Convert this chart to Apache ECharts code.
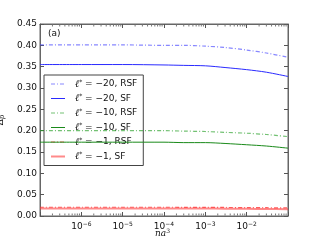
<!DOCTYPE html>
<html><head><meta charset="utf-8">
<script src="https://cdn.jsdelivr.net/npm/echarts@6/dist/echarts.min.js"></script>
<style>html,body{margin:0;padding:0;background:#fff}#c{width:320px;height:240px}</style>
</head><body><div id="c"></div>
<script>
const xs = [1e-7, 1e-6, 1e-5, 1e-4, 3e-4, 1e-3, 3e-3, 1e-2, 3e-2, 1e-1];
const l20RSF = [0.401, 0.401, 0.401, 0.400, 0.400, 0.398, 0.395, 0.389, 0.382, 0.372];
const l20SF  = [0.355, 0.355, 0.355, 0.354, 0.353, 0.352, 0.348, 0.343, 0.337, 0.327];
const l10RSF = [0.200, 0.200, 0.200, 0.200, 0.199, 0.198, 0.196, 0.194, 0.191, 0.186];
const l10SF  = [0.173, 0.173, 0.173, 0.173, 0.172, 0.172, 0.170, 0.167, 0.164, 0.159];
const l1RSF  = [0.0205, 0.0205, 0.0205, 0.0205, 0.0204, 0.0203, 0.0200, 0.0197, 0.0194, 0.019];
const l1SF   = [0.0178, 0.0178, 0.0178, 0.0177, 0.0176, 0.0175, 0.0172, 0.0168, 0.0164, 0.016];
const seriesNames = ['ℓ* = −20, RSF', 'ℓ* = −20, SF', 'ℓ* = −10, RSF', 'ℓ* = −10, SF', 'ℓ* = −1, RSF', 'ℓ* = −1, SF'];
const yTickLabels = ['0.00', '0.05', '0.10', '0.15', '0.20', '0.25', '0.30', '0.35', '0.40', '0.45'];
const decades = [-7, -6, -5, -4, -3, -2, -1];
const xLabelDecades = [-6, -5, -4, -3, -2];

const minorX = [];
decades.slice(0, -1).forEach(d => { for (let m = 2; m <= 9; m++) minorX.push(m * Math.pow(10, d)); });

const chart = echarts.init(document.getElementById('c'), null, {renderer: 'canvas'});
const pair = a => xs.map((x, i) => [x, a[i]]);
const DD = [4, 2, 1, 2];
const styles = [
  {color: 'rgba(70,70,255,0.65)', width: 1.2, type: DD},
  {color: '#2a2aff', width: 1, type: 'solid'},
  {color: 'rgba(40,160,40,0.65)', width: 1.2, type: DD},
  {color: '#1a8a1a', width: 1, type: 'solid'},
  {color: 'rgba(255,40,40,0.75)', width: 1.2, type: DD},
  {color: 'rgba(255,60,60,0.6)', width: 2, type: 'solid'}
];
const arrays = [l20RSF, l20SF, l10RSF, l10SF, l1RSF, l1SF];
const series = arrays.map((a, i) => ({
  name: seriesNames[i], type: 'line', data: pair(a), showSymbol: false, symbol: 'none',
  smooth: 0.3, lineStyle: styles[i], itemStyle: {color: styles[i].color}, z: 3 + i
}));
series.push({
  type: 'custom', name: 'minor', silent: true, xAxisIndex: 0, yAxisIndex: 0, clip: false,
  data: minorX.map(v => [v, 0]),
  renderItem: (params, api) => {
    const p = api.coord([api.value(0), 0]);
    const cs = params.coordSys;
    return {type: 'group', children: [
      {type: 'line', shape: {x1: p[0], y1: cs.y + cs.height - 0.5, x2: p[0], y2: cs.y + cs.height - 2.5}, style: {stroke: '#777', lineWidth: 1}},
      {type: 'line', shape: {x1: p[0], y1: cs.y + 0.5, x2: p[0], y2: cs.y + 2.5}, style: {stroke: '#777', lineWidth: 1}}
    ]};
  }, z: 10
});
const xLabel = v => {
  const n = Math.round(Math.log10(Number(v)));
  if (xLabelDecades.indexOf(n) < 0) return '';
  return '10{s|' + (n < 0 ? '\u2212' + (-n) : n) + '}';
};
const yLabel = v => yTickLabels[Math.round(Number(v) / 0.05)];
const axisCommon = {
  axisLine: {show: true, onZero: false, lineStyle: {color: '#666', width: 1}},
  axisTick: {show: true, inside: true, length: 4, lineStyle: {color: '#555'}},
  splitLine: {show: false}
};
chart.setOption({
  animation: false,
  backgroundColor: '#fff',
  grid: {left: 40, top: 24, right: 32, bottom: 24, containLabel: false, outerBoundsMode: 'none',
    show: true, borderColor: '#666', borderWidth: 1, backgroundColor: 'transparent'},
  xAxis: [
    Object.assign({type: 'log', logBase: 10, min: 1e-7, max: 1e-1, interval: 1, position: 'bottom',
      axisLabel: {formatter: xLabel, color: '#111', fontFamily: 'DejaVu Sans', fontSize: 9, margin: 5,
        rich: {s: {fontSize: 6, fontFamily: 'DejaVu Sans', color: '#111', padding: [0, 0, 6, 0]}}}}, axisCommon),
    Object.assign({type: 'log', logBase: 10, min: 1e-7, max: 1e-1, interval: 1, position: 'top',
      axisLabel: {show: false}}, axisCommon)
  ],
  yAxis: [
    Object.assign({type: 'value', min: 0, max: 0.45, interval: 0.05, position: 'left',
      name: 'Δ{p|p}', nameLocation: 'middle', nameGap: 28, nameRotate: 90,
      nameTextStyle: {color: '#111', fontFamily: 'DejaVu Sans', fontSize: 9, rich: {p: {fontFamily: 'DejaVu Serif', fontStyle: 'italic', fontSize: 7, padding: [4, 0, 0, 0]}}},
      axisLabel: {formatter: yLabel, color: '#111', fontFamily: 'DejaVu Sans', fontSize: 9, margin: 3}}, axisCommon),
    Object.assign({type: 'value', min: 0, max: 0.45, interval: 0.05, position: 'right',
      axisLabel: {show: false}}, axisCommon)
  ],
  legend: {
    data: seriesNames.map((n, i) => ({name: n, lineStyle: {type: styles[i].type, color: styles[i].color, width: styles[i].width}})),
    orient: 'vertical', left: 44, top: 75,
    backgroundColor: '#fff', borderColor: '#444', borderWidth: 1, borderRadius: 0,
    padding: [4, 6, 4, 6], itemWidth: 14, itemHeight: 9, itemGap: 4.5,
    itemStyle: {color: 'transparent', borderWidth: 0, opacity: 0},
    formatter: n => {
      const m = n.match(/^ℓ\* = (.*)$/);
      return '{l|ℓ}{s|*}{t| = ' + m[1] + '}';
    },
    textStyle: {color: '#111', fontSize: 9, lineHeight: 10, padding: [0, 0, 0, 5],
      rich: {
        l: {fontFamily: 'DejaVu Serif', fontStyle: 'italic', fontSize: 10, lineHeight: 10},
        s: {fontFamily: 'DejaVu Serif', fontSize: 6, lineHeight: 6, verticalAlign: 'top'},
        t: {fontFamily: 'DejaVu Sans', fontSize: 9, lineHeight: 10}
      }}
  },
  graphic: [
    {type: 'text', left: 48, top: 29, style: {text: '(a)', fontFamily: 'DejaVu Sans', fontSize: 9, fill: '#111'}},
    {type: 'text', left: 155, top: 228, style: {text: '{i|na}{s|3}', fill: '#111',
      rich: {i: {fontFamily: 'DejaVu Serif', fontStyle: 'italic', fontSize: 9, fill: '#111'},
             s: {fontFamily: 'DejaVu Serif', fontSize: 6, fill: '#111', padding: [0, 0, 6, 0]}}}}
  ],
  series: series
});
</script></body></html>
